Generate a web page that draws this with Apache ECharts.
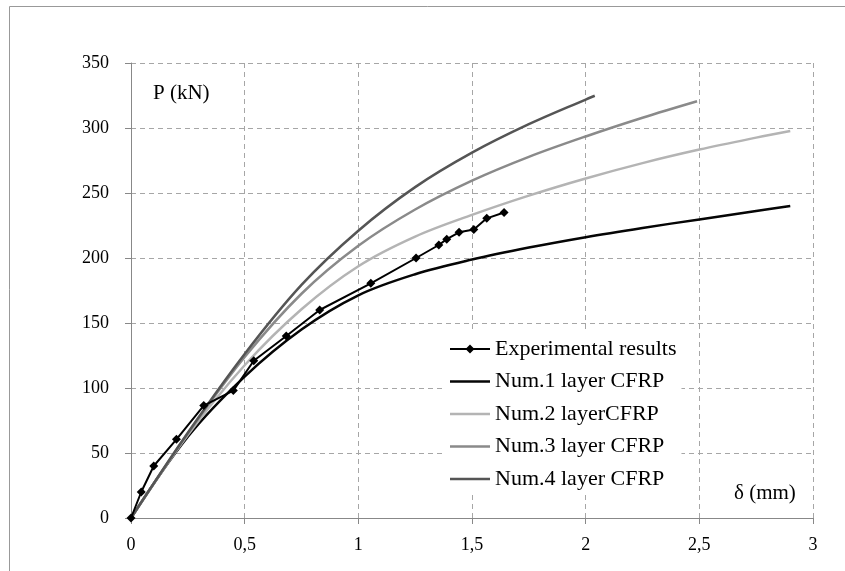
<!DOCTYPE html>
<html>
<head>
<meta charset="utf-8">
<script src="https://cdn.jsdelivr.net/npm/echarts@6/dist/echarts.min.js"></script>
<style>
html,body{margin:0;padding:0;background:#fff;}
#chart{width:845px;height:571px;}
</style>
</head>
<body>
<div id="chart"></div>
<script>
// Series names
var seriesNames = ['Experimental results', 'Num.1 layer CFRP', 'Num.2 layerCFRP', 'Num.3 layer CFRP', 'Num.4 layer CFRP'];

// Experimental results: [delta (mm), P (kN)]
var expData = [[0,0],[0.045,20],[0.1,40],[0.2,60.5],[0.32,86.5],[0.45,98],[0.54,121],[0.683,140],[0.83,160],[1.055,180.5],[1.254,200],[1.354,210],[1.389,214.5],[1.443,219.8],[1.508,222],[1.565,230.5],[1.641,235]];

// Numerical curves: [delta (mm), P (kN)]
var num1Data = [[0,0],[0.25,62.5],[0.5,108.8],[0.75,145],[1,171.3],[1.25,187.5],[1.5,198.8],[1.75,208],[2,216],[2.25,223.1],[2.5,229.7],[2.75,236.2],[2.9,240]];
var num2Data = [[0,0],[0.25,63.8],[0.5,117.5],[0.75,160.6],[1,193.7],[1.25,216.5],[1.5,233.2],[1.75,248],[2,261.2],[2.25,273],[2.5,283.4],[2.75,292.6],[2.9,297.7]];
var num3Data = [[0,0],[0.25,65],[0.5,123.8],[0.75,172.5],[1,209.4],[1.25,237.3],[1.5,259.5],[1.75,277.8],[2,293.5],[2.25,307.9],[2.49,320.6]];
var num4Data = [[0,0],[0.25,65.6],[0.5,126.2],[0.75,179.3],[1,221],[1.25,254.5],[1.5,281],[1.75,302.9],[2,321.9],[2.04,324.8]];

// Axis settings
var xMin = 0, xMax = 3, xStep = 0.5;
var yMin = 0, yMax = 350, yStep = 50;
var xTitle = 'δ (mm)';
var yTitle = 'P (kN)';

var serif = '"Liberation Serif", "DejaVu Serif", serif';
var chart = echarts.init(document.getElementById('chart'), null, {renderer: 'canvas'});

var lineIcon = 'path://M0,3.75H40V6.25H0Z';
var markerIcon = 'path://M0,4H40V6H0Z M20,0.5L24.5,5L20,9.5L15.5,5Z';

function numSeries(name, data, color, width) {
  return {
    name: name, type: 'line', data: data, smooth: 0.35,
    showSymbol: false, symbol: 'none',
    lineStyle: {color: color, width: width},
    itemStyle: {color: color},
    z: 2
  };
}

var option = {
  animation: false,
  backgroundColor: '#fff',
  grid: {left: 131, right: 32, top: 63, bottom: 53, containLabel: false},
  xAxis: {
    type: 'value', min: xMin, max: xMax, interval: xStep,
    axisLine: {show: true, lineStyle: {color: '#888', width: 1}},
    axisTick: {show: true, length: 6, lineStyle: {color: '#888'}},
    axisLabel: {
      color: '#000', fontFamily: serif, fontSize: 18, margin: 18,
      formatter: function (v) { return String(v).replace('.', ','); }
    },
    splitLine: {show: true, lineStyle: {color: '#a6a6a6', type: [5, 4], width: 1}}
  },
  yAxis: {
    type: 'value', min: yMin, max: yMax, interval: yStep,
    axisLine: {show: true, lineStyle: {color: '#888', width: 1}},
    axisTick: {show: true, length: 6, lineStyle: {color: '#888'}},
    axisLabel: {color: '#000', fontFamily: serif, fontSize: 18, margin: 22},
    splitLine: {show: true, lineStyle: {color: '#a6a6a6', type: [5, 4], width: 1}}
  },
  legend: {
    show: true, orient: 'vertical', left: 445, top: 333,
    itemWidth: 40, itemHeight: 10, itemGap: 10.5,
    textStyle: {color: '#000', fontFamily: serif, fontSize: 22, lineHeight: 20},
    data: [
      {name: seriesNames[0], icon: markerIcon},
      {name: seriesNames[1], icon: lineIcon},
      {name: seriesNames[2], icon: lineIcon},
      {name: seriesNames[3], icon: lineIcon},
      {name: seriesNames[4], icon: lineIcon}
    ],
    backgroundColor: '#fff'
  },
  graphic: [
    {type: 'rect', shape: {x: 9.5, y: 6.5, width: 900, height: 700}, style: {fill: null, stroke: '#999', lineWidth: 1}, silent: true, z: 0},
    {type: 'text', left: 153, top: 83, style: {text: yTitle, fontFamily: serif, fontSize: 21, fill: '#000'}, z: 10},
    {type: 'text', left: 734, top: 483, style: {text: xTitle, fontFamily: serif, fontSize: 21, fill: '#000'}, z: 10}
  ],
  series: [
    {
      name: seriesNames[0], type: 'line', data: expData, smooth: false,
      symbol: 'diamond', symbolSize: 9, showSymbol: true,
      lineStyle: {color: '#000', width: 2},
      itemStyle: {color: '#000'},
      z: 5
    },
    numSeries(seriesNames[1], num1Data, '#050505', 2.5),
    numSeries(seriesNames[2], num2Data, '#b4b4b4', 2.5),
    numSeries(seriesNames[3], num3Data, '#8a8a8a', 2.5),
    numSeries(seriesNames[4], num4Data, '#555555', 2.5)
  ]
};
chart.setOption(option);
</script>
</body>
</html>
